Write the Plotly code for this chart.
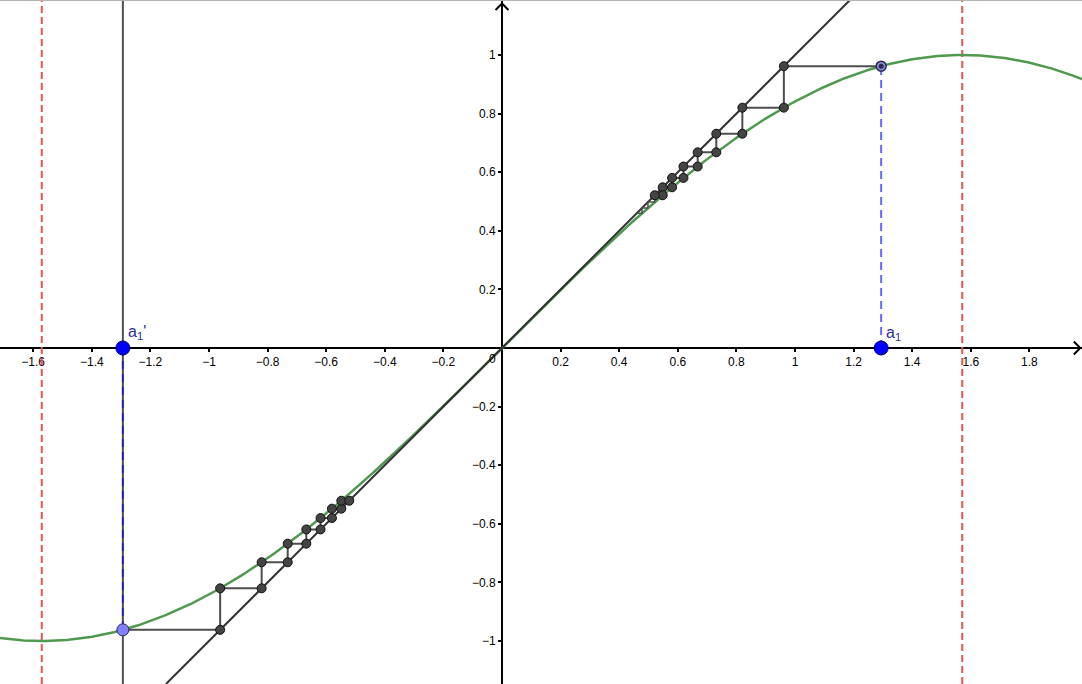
import numpy as np
import plotly.graph_objects as go

# ---------------- data ----------------
A1 = 1.294                    # start value a1 (a1' = -a1)
N_STEPS_POINTS = 8            # cobweb iterates drawn with points
N_STEPS_EXTRA_RIGHT = 2       # extra tiny cobweb steps (lines only) on the right
ASYMPTOTES = [-np.pi / 2, np.pi / 2]   # red dashed verticals

X_TICKS = [-1.6, -1.4, -1.2, -1.0, -0.8, -0.6, -0.4, -0.2, 0.2, 0.4, 0.6, 0.8, 1.0, 1.2, 1.4, 1.6, 1.8]
X_TICK_LABELS = ["−1.6", "−1.4", "−1.2", "−1", "−0.8", "−0.6", "−0.4", "−0.2",
                 "0.2", "0.4", "0.6", "0.8", "1", "1.2", "1.4", "1.6", "1.8"]
Y_TICKS = [-1.0, -0.8, -0.6, -0.4, -0.2, 0.2, 0.4, 0.6, 0.8, 1.0]
Y_TICK_LABELS = ["−1", "−0.8", "−0.6", "−0.4", "−0.2", "0.2", "0.4", "0.6", "0.8", "1"]

# view window
X_RANGE = [-1.7133, 1.9795]
Y_RANGE = [-1.1468, 1.1877]

# ---------------- styles ----------------
GREEN = "#4f9a4f"
DARK = "#333333"
COB = "#4d4d4d"
RED = "#e85454"
BLUE_DASH = "rgba(0,0,255,0.6)"
LABEL_BLUE = "#2e2e9e"
FONT = "Liberation Sans, Arial, sans-serif"

W, H = 1082, 684


def cobweb(x0, n_steps):
    """Return cobweb path (starting at (x0, sin x0)) and list of vertex points."""
    xs, ys = [x0], [np.sin(x0)]
    pts_x, pts_y = [], []
    x = x0
    for k in range(n_steps):
        y = np.sin(x)
        xs.append(y); ys.append(y)          # horizontal to y = x
        pts_x.append(y); pts_y.append(y)
        x = y
        if k < n_steps - 1:
            xs.append(x); ys.append(np.sin(x))  # vertical to curve
            pts_x.append(x); pts_y.append(np.sin(x))
    return xs, ys, pts_x, pts_y, x


fig = go.Figure()

# red dashed asymptote lines
for xa in ASYMPTOTES:
    fig.add_trace(go.Scatter(x=[xa, xa], y=Y_RANGE, mode="lines",
                             line=dict(color=RED, width=2, dash="7px,4px"),
                             hoverinfo="skip", showlegend=False))

# full vertical line through a1'
fig.add_trace(go.Scatter(x=[-A1, -A1], y=Y_RANGE, mode="lines",
                         line=dict(color="#505050", width=2),
                         hoverinfo="skip", showlegend=False))

# sine curve
xc = np.linspace(X_RANGE[0], X_RANGE[1], 600)
fig.add_trace(go.Scatter(x=xc, y=np.sin(xc), mode="lines",
                         line=dict(color=GREEN, width=2.5),
                         hoverinfo="skip", showlegend=False))

# line y = x
fig.add_trace(go.Scatter(x=[Y_RANGE[0], Y_RANGE[1]], y=[Y_RANGE[0], Y_RANGE[1]], mode="lines",
                         line=dict(color=DARK, width=2),
                         hoverinfo="skip", showlegend=False))

# cobwebs
rx, ry, rpx, rpy, xlast = cobweb(A1, N_STEPS_POINTS)
ex, ey, _, _, _ = cobweb(xlast, N_STEPS_EXTRA_RIGHT + 1)
extra_x = [xlast] + [xlast] + ex[1:]
extra_y = [xlast] + [np.sin(xlast)] + ey[1:]
lx, ly, lpx, lpy, _ = cobweb(-A1, N_STEPS_POINTS)

fig.add_trace(go.Scatter(x=rx, y=ry, mode="lines", line=dict(color=COB, width=2),
                         hoverinfo="skip", showlegend=False))
fig.add_trace(go.Scatter(x=extra_x, y=extra_y, mode="lines", line=dict(color=COB, width=1.5),
                         hoverinfo="skip", showlegend=False))
fig.add_trace(go.Scatter(x=lx, y=ly, mode="lines", line=dict(color=COB, width=2),
                         hoverinfo="skip", showlegend=False))

# blue dashed segments from axis to curve
for xa in [A1, -A1]:
    fig.add_trace(go.Scatter(x=[xa, xa], y=[0, np.sin(xa)], mode="lines",
                             line=dict(color=BLUE_DASH, width=2, dash="8px,5px"),
                             hoverinfo="skip", showlegend=False))

# cobweb points
fig.add_trace(go.Scatter(x=rpx + lpx, y=rpy + lpy, mode="markers",
                         marker=dict(size=9, color="#444444", line=dict(color="#111111", width=1)),
                         hoverinfo="skip", showlegend=False))

# ring point at (a1, sin a1)
fig.add_trace(go.Scatter(x=[A1], y=[np.sin(A1)], mode="markers",
                         marker=dict(size=10, color="#8a8ad0", line=dict(color="#2a2a55", width=1.5)),
                         hoverinfo="skip", showlegend=False))
fig.add_trace(go.Scatter(x=[A1], y=[np.sin(A1)], mode="markers",
                         marker=dict(size=5, color="#2a2a55"),
                         hoverinfo="skip", showlegend=False))

# lavender point at (a1', sin a1')
fig.add_trace(go.Scatter(x=[-A1], y=[np.sin(-A1)], mode="markers",
                         marker=dict(size=12, color="#8080ff", line=dict(color="#2a2a66", width=1)),
                         hoverinfo="skip", showlegend=False))

# blue points a1, a1'
fig.add_trace(go.Scatter(x=[A1, -A1], y=[0, 0], mode="markers",
                         marker=dict(size=14, color="#0000ff", line=dict(color="#000066", width=1)),
                         hoverinfo="skip", showlegend=False))

# labels
fig.add_annotation(x=A1, y=0, xref="x", yref="y", text="a<sub>1</sub>", showarrow=False,
                   xanchor="left", yanchor="bottom", xshift=3, yshift=3,
                   font=dict(family=FONT, size=16, color=LABEL_BLUE))
fig.add_annotation(x=-A1, y=0, xref="x", yref="y", text="a<sub>1</sub>'", showarrow=False,
                   xanchor="left", yanchor="bottom", xshift=3, yshift=4,
                   font=dict(family=FONT, size=16, color=LABEL_BLUE))
fig.add_annotation(x=0, y=0, xref="x", yref="y", text="0", showarrow=False,
                   xanchor="center", yanchor="middle", xshift=-10, yshift=-11,
                   font=dict(family=FONT, size=12, color="black"))

# axis arrowheads (open chevrons)
ARROW = 0.022
tip_x = X_RANGE[1] - 0.006
tip_y = Y_RANGE[1] - 0.012
fig.add_shape(type="path", xref="x", yref="y",
              path=f"M {tip_x - ARROW},{ARROW} L {tip_x},0 L {tip_x - ARROW},{-ARROW}",
              line=dict(color="black", width=2))
fig.add_shape(type="path", xref="x", yref="y",
              path=f"M {-ARROW},{tip_y - ARROW} L 0,{tip_y} L {ARROW},{tip_y - ARROW}",
              line=dict(color="black", width=2))
# top border line
fig.add_shape(type="line", xref="paper", yref="paper", x0=0, x1=1, y0=1, y1=1,
              line=dict(color="#b4b4b4", width=2))

x_axis_pos = (0 - Y_RANGE[0]) / (Y_RANGE[1] - Y_RANGE[0])
y_axis_pos = (0 - X_RANGE[0]) / (X_RANGE[1] - X_RANGE[0])

axis_common = dict(showgrid=False, zeroline=False, showline=True, linecolor="black", linewidth=2,
                   ticks="outside", ticklen=3, tickwidth=2, tickcolor="black",
                   tickfont=dict(family=FONT, size=12, color="black"),
                   layer="below traces", anchor="free", fixedrange=True)

fig.update_layout(
    width=W, height=H,
    margin=dict(l=0, r=0, t=0, b=0),
    paper_bgcolor="white", plot_bgcolor="white",
    showlegend=False,
    xaxis=dict(range=X_RANGE, position=x_axis_pos, tickvals=X_TICKS, ticktext=X_TICK_LABELS,
               **axis_common),
    yaxis=dict(range=Y_RANGE, position=y_axis_pos, tickvals=Y_TICKS, ticktext=Y_TICK_LABELS,
               **axis_common),
)

fig.write_html("out.html", config={"displayModeBar": False},
               post_script="document.body.style.margin='0';document.body.style.overflow='hidden';")
